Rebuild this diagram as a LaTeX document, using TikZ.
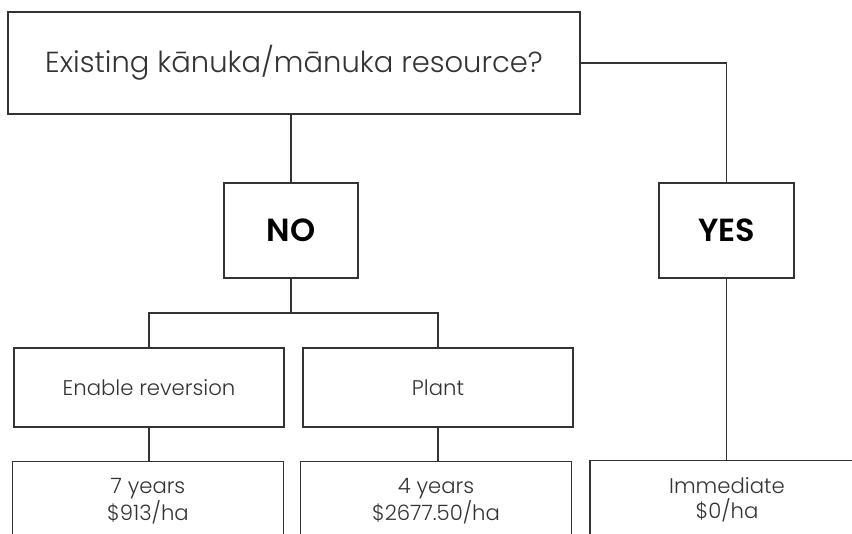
\documentclass[tikz,border=0pt]{standalone}
\usepackage{fontspec}
\setmainfont{Poppins Light}[BoldFont={Poppins SemiBold}]
\definecolor{ink}{HTML}{333333}
\tikzset{
  box/.style={draw=ink, line width=0.85pt, text=ink, inner sep=0pt, align=center},
  small/.style={font=\fontsize{10.6}{12.5}\selectfont},
  answer/.style={font=\bfseries\fontsize{16}{18}\selectfont, text=black},
  link/.style={draw=ink, line width=0.85pt}
}
\begin{document}
\begin{tikzpicture}[x=0.5pt,y=-0.5pt]
      \useasboundingbox (0,0) rectangle (852,534);
      \clip (0,0) rectangle (852,534);
      \node[box, minimum width=286pt, minimum height=51pt, font=\fontsize{14.5}{17}\selectfont](question) at (294,63) {Existing kānuka/mānuka resource?};
      \node[box, answer, minimum width=67pt, minimum height=47.5pt](no) at (291,230.5) {NO};
      \node[box, answer, minimum width=67.5pt, minimum height=47.5pt](yes) at (726.5,230.5) {YES};
      \node[box, small, minimum width=135pt, minimum height=39.5pt](enable) at (149,387.5) {Enable reversion};
      \node[box, small, minimum width=135pt, minimum height=39.5pt](plant) at (438,387.5) {Plant};
      \node[box, small, minimum width=135.5pt, minimum height=39.5pt](sevenyrs) at (148,501) {7 years\\\$913/ha};
      \node[box, small, minimum width=135.5pt, minimum height=39.5pt](fouryrs) at (436,501) {4 years\\\$2677.50/ha};
      \node[box, small, minimum width=137pt, minimum height=39.5pt](now) at (727,500) {Immediate\\\$0/ha};
      \coordinate (split) at (291,313);
      \draw[link](question.south -| no.north)--(no.north);
      \draw[link](question.east)--(question.east -| yes.north)--(yes.north);
      \draw[link](no.south)--(split);
      \draw[link](enable.north)|-(split)-|(plant.north);
      \draw[link](enable.south)--(enable.south |- sevenyrs.north);
      \draw[link](plant.south)--(plant.south |- fouryrs.north);
      \draw[link](yes.south)--(yes.south |- now.north);
    \end{tikzpicture}
\end{document}
